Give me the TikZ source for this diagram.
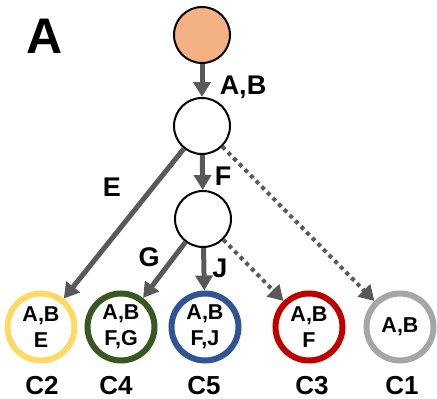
\documentclass[tikz,border=0pt]{standalone}
\usepackage{fontspec}
\setmainfont{Liberation Sans}
\usetikzlibrary{arrows.meta}
\definecolor{edgegray}{HTML}{595959}
\definecolor{rootfill}{HTML}{F4B183}
\definecolor{cyellow}{HTML}{FFD966}
\definecolor{cgreen}{HTML}{385723}
\definecolor{cblue}{HTML}{2F5597}
\definecolor{cred}{HTML}{C00000}
\definecolor{cgray}{HTML}{A6A6A6}
\tikzset{
  inner/.style={circle,draw=black,line width=2pt,minimum size=56pt,inner sep=0pt,fill=white},
  leaf/.style={circle,draw=#1,line width=6pt,minimum size=67pt,inner sep=0pt,fill=white,
    align=center,font=\bfseries\fontsize{21.5}{26}\selectfont},
  elabel/.style={font=\bfseries\fontsize{27}{30}\selectfont,inner sep=0pt},
  clabel/.style={font=\bfseries\fontsize{26}{30}\selectfont,inner sep=0pt},
  solidarrow/.style={draw=edgegray,line width=5pt,-{Triangle[length=15pt,width=17pt]}},
  dotarrow/.style={draw=edgegray,line width=4pt,dash pattern=on 4pt off 4pt,
    -{Triangle[length=15pt,width=17pt]}},
}
\begin{document}
\begin{tikzpicture}[x=1pt,y=-1pt]
\useasboundingbox (0,0) rectangle (437,399);
\node[font=\bfseries\fontsize{50}{54}\selectfont,inner sep=0pt] (lblA) at (45,36) {A};
\node[inner,fill=rootfill] (root) at (202,35) {};
\node[inner] (n2) at (202,126) {};
\node[inner] (n3) at (203,219) {};
\node[leaf=cyellow] (c2) at (41,327) {A,B\\E};
\node[leaf=cgreen] (c4) at (121,327) {A,B\\F,G};
\node[leaf=cblue] (c5) at (205,327) {A,B\\F,J};
\node[leaf=cred] (c3) at (309,327) {A,B\\F};
\node[leaf=cgray] (c1) at (400,327) {A,B};
\node[clabel] (l2) at (42,386) {C2};
\node[clabel] (l4) at (116,386) {C4};
\node[clabel] (l5) at (204,386) {C5};
\node[clabel] (l3) at (312,386) {C3};
\node[clabel] (l1) at (402,386) {C1};
\draw[solidarrow] (root) -- (n2);
\draw[solidarrow] (n2) -- (n3);
\draw[solidarrow] (n2) -- (c2);
\draw[dotarrow] (n2) -- (c1);
\draw[solidarrow] (n3) -- (c4);
\draw[solidarrow] (n3) -- (c5);
\draw[dotarrow] (n3) -- (c3);
\node[elabel] (eAB) at (243,87) {A,B};
\node[elabel] (eF) at (223,176) {F};
\node[elabel] (eE) at (112,187) {E};
\node[elabel] (eG) at (149,257) {G};
\node[elabel] (eJ) at (220,268) {J};
\end{tikzpicture}
\end{document}
